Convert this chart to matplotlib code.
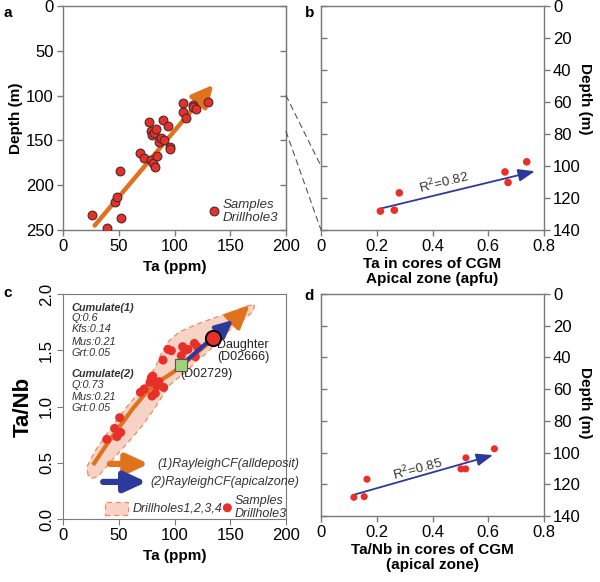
import matplotlib
matplotlib.use("Agg")
import matplotlib.pyplot as plt
from matplotlib.patches import Polygon, Rectangle, ConnectionPatch

# ---- panel a: Ta vs depth, drillhole 3
ta_a = [26.3, 39.5, 51.8, 46.4, 48.5, 50.9, 68.9, 72.2, 76.9, 78.7, 79.6, 82.0, 83.5,
        78.7, 80.5, 82.3, 84.4, 86.2, 88.0, 89.8, 90.4, 94.3, 95.8, 95.8, 107.5, 108.0,
        109.9, 116.2, 116.8, 119.2, 130.2]
depth_a = [233, 248, 237, 219, 213, 184, 164, 170, 130, 139, 144, 142, 137,
           172, 175, 180, 167, 152, 147, 127, 149, 134, 157, 160, 108, 118,
           125, 111, 113, 115, 107]
trend_a = [(28.4, 245), (134.7, 88)]

# ---- panel b: Ta in cores of CGM (apical zone)
ta_b = [0.213, 0.263, 0.281, 0.660, 0.671, 0.738]
depth_b = [128.2, 127.6, 116.8, 103.7, 110.3, 97.4]
trend_b = [(0.216, 126.5), (0.767, 103.3)]

# ---- panel c: Ta vs Ta/Nb
ta_c = [39.2, 46.3, 48.4, 50.8, 51.7, 69.4, 72.9, 78.0, 79.2, 80.4, 81.9, 86.1, 84.3,
        79.8, 82.8, 90.3, 89.7, 94.2, 97.2, 106.1, 107.3, 109.4, 112.1, 117.8, 120.5, 118.7]
tanb_c = [0.708, 0.806, 0.732, 0.901, 0.770, 1.126, 1.156, 1.215, 1.256, 1.271, 1.221,
          1.221, 1.182, 1.093, 1.117, 1.170, 1.413, 1.508, 1.496, 1.452, 1.532, 1.499,
          1.508, 1.561, 1.529, 1.443]
env_x = [22.4, 21.5, 28.4, 41.9, 56.8, 68.8, 76.2, 83.7, 88.2, 94.2, 104.6, 119.6, 134.5,
         152.5, 165.9, 171.9, 170.4, 161.4, 149.5, 139.0, 128.6, 119.6, 112.1, 104.6,
         95.7, 89.7, 82.2, 71.7, 62.8, 50.8, 38.9, 31.4, 25.4]
env_y = [0.391, 0.465, 0.599, 0.793, 0.993, 1.132, 1.236, 1.369, 1.473, 1.576, 1.665,
         1.730, 1.784, 1.843, 1.896, 1.908, 1.843, 1.769, 1.680, 1.576, 1.473, 1.404,
         1.324, 1.265, 1.191, 1.102, 0.984, 0.836, 0.732, 0.599, 0.465, 0.376, 0.361]
curve_x = [26.9, 38.9, 50.8, 62.8, 74.7, 86.7, 98.7, 106.1, 119.6, 134.5, 149.5, 167.4]
curve_y = [0.48, 0.658, 0.821, 0.984, 1.126, 1.227, 1.304, 1.363, 1.473, 1.597, 1.730, 1.902]
parent = (106.1, 1.369)
daughter = (134.5, 1.606)
apical_end = (152.5, 1.769)

# ---- panel d: Ta/Nb in cores of CGM (apical zone)
tanb_d = [0.118, 0.155, 0.165, 0.502, 0.519, 0.520, 0.622]
depth_d = [128.2, 127.8, 116.8, 110.3, 110.3, 103.3, 97.6]
trend_d = [(0.12, 126.5), (0.617, 101.6)]

ORANGE = "#e2711d"
RED = "#e8302a"
BLUE = "#2b3a9c"
SPINE = "#7a7a7a"
PINK = "#f7d3c6"
TICK_FS = 12

plt.rcParams["font.family"] = ["Liberation Sans", "DejaVu Sans"]
plt.rcParams["font.size"] = 10.5

fig = plt.figure(figsize=(6.0, 5.82), dpi=100)
ax_a = fig.add_axes([0.105, 0.6048, 0.3717, 0.3849])
ax_b = fig.add_axes([0.535, 0.6048, 0.3717, 0.3849])
ax_c = fig.add_axes([0.105, 0.1082, 0.3717, 0.3866])
ax_d = fig.add_axes([0.535, 0.1134, 0.3717, 0.3814])


def arrow(ax, start, end, color, lw, hl, hw, z=2):
    ax.annotate("", xy=end, xytext=start,
                arrowprops=dict(arrowstyle=f"-|>,head_length={hl},head_width={hw}",
                                lw=lw, color=color, mutation_scale=10,
                                shrinkA=0, shrinkB=0), zorder=z)


def style(ax, side):
    for s in ax.spines.values():
        s.set_color(SPINE)
        s.set_linewidth(1.0)
    ax.tick_params(colors=SPINE, labelcolor="black", length=4, width=1.0,
                   labelsize=TICK_FS, pad=2.5)
    if side == "right":
        ax.yaxis.tick_right()
        ax.yaxis.set_label_position("right")
        sec = ax.secondary_yaxis("left")
    else:
        sec = ax.secondary_yaxis("right")
    sec.set_yticks(ax.get_yticks())
    sec.tick_params(direction="in", length=4, width=1.0, colors=SPINE,
                    labelleft=False, labelright=False)
    sec.spines[:].set_color(SPINE)


# a
ax_a.scatter(ta_a, depth_a, s=40, c=RED, edgecolors="#4a2a2a", linewidths=0.8, zorder=3)
arrow(ax_a, trend_a[0], trend_a[1], ORANGE, 3.2, 1.3, 0.65)
ax_a.scatter([135.3], [229], s=40, c=RED, edgecolors="#4a2a2a", linewidths=0.8)
ax_a.text(143, 229, "Samples\nDrillhole3", style="italic", fontsize=9.5, va="center",
          ha="left", linespacing=1.1, color="#333333")
ax_a.set_xlim(0, 200)
ax_a.set_ylim(250, 0)
ax_a.set_xticks([0, 50, 100, 150, 200])
ax_a.set_yticks([0, 50, 100, 150, 200, 250])
ax_a.set_xlabel("Ta (ppm)", fontweight="bold", fontsize=11)
ax_a.set_ylabel("Depth (m)", fontweight="bold", fontsize=11, labelpad=2)
style(ax_a, "left")

# b
ax_b.scatter(ta_b, depth_b, s=30, c=RED, edgecolors="none", zorder=3)
arrow(ax_b, trend_b[0], trend_b[1], BLUE, 1.3, 1.0, 0.38)
ax_b.text(0.44, 110, "R$^2$=0.82", rotation=14, fontsize=9.5, ha="center",
          va="center", color="#333333")
ax_b.set_xlim(0, 0.8)
ax_b.set_ylim(140, 0)
ax_b.set_xticks([0, 0.2, 0.4, 0.6, 0.8])
ax_b.set_xticklabels(["0", "0.2", "0.4", "0.6", "0.8"])
ax_b.set_yticks([0, 20, 40, 60, 80, 100, 120, 140])
ax_b.set_xlabel("Ta in cores of CGM\nApical zone (apfu)", fontweight="bold", fontsize=11,
                linespacing=1.15, labelpad=2)
ax_b.set_ylabel("Depth (m)", fontweight="bold", fontsize=11, rotation=270)
ax_b.yaxis.set_label_coords(1.215, 0.585)
style(ax_b, "right")

# c
ax_c.add_patch(Polygon(list(zip(env_x, env_y)), closed=True, facecolor=PINK,
                       edgecolor="#f08a5d", linestyle=(0, (4, 3)), lw=0.9, zorder=1))
ax_c.plot(curve_x[:-1], curve_y[:-1], color=ORANGE, lw=3, zorder=2,
          solid_capstyle="butt")
arrow(ax_c, (curve_x[-2], curve_y[-2]), (curve_x[-1], curve_y[-1]), ORANGE, 3, 1.4, 0.65)
ax_c.scatter(ta_c, tanb_c, s=42, c=RED, edgecolors="none", zorder=3)
arrow(ax_c, parent, apical_end, BLUE, 3, 1.05, 0.5, z=4)
ax_c.scatter([parent[0]], [parent[1]], marker="s", s=70, c="#9ed27a",
             edgecolors="#555555", linewidths=0.8, zorder=5)
ax_c.scatter([daughter[0]], [daughter[1]], s=120, c=RED, edgecolors="black",
             linewidths=1.4, zorder=5)
ax_c.text(138, 1.6, "Daughter\n(D02666)", fontsize=9, va="top", ha="left",
          linespacing=1.0, color="#222222")
ax_c.text(105, 1.29, "(D02729)", fontsize=9, va="center", ha="left", color="#222222")

cum_lines = [("Cumulate(1)", 1.873, True), ("Q:0.6", 1.784, False),
             ("Kfs:0.14", 1.686, False), ("Mus:0.21", 1.576, False),
             ("Grt:0.05", 1.473, False), ("Cumulate(2)", 1.286, True),
             ("Q:0.73", 1.191, False), ("Mus:0.21", 1.087, False),
             ("Grt:0.05", 0.990, False)]
for txt, yy, bold in cum_lines:
    ax_c.text(7.5, yy, txt, style="italic", fontsize=7.8, va="center", ha="left",
              fontweight="bold" if bold else "normal", color="#333333")

arrow(ax_c, (42, 0.49), (77, 0.49), ORANGE, 4.5, 1.3, 0.6)
ax_c.text(85, 0.49, "(1)RayleighCF(alldeposit)", style="italic", fontsize=9,
          va="center", ha="left", color="#333333")
arrow(ax_c, (36, 0.33), (75, 0.33), BLUE, 4.5, 1.3, 0.6)
ax_c.text(78, 0.33, "(2)RayleighCF(apicalzone)", style="italic", fontsize=9,
          va="center", ha="left", color="#333333")
ax_c.add_patch(Rectangle((37.4, 0.036), 21, 0.112, facecolor=PINK, edgecolor="#f08a5d",
                         linestyle=(0, (4, 3)), lw=0.9))
ax_c.text(62, 0.09, "Drillholes1,2,3,4", style="italic", fontsize=9, va="center",
          ha="left", color="#333333")
ax_c.scatter([147.4], [0.1], s=42, c=RED, edgecolors="none")
ax_c.text(153.5, 0.1, "Samples\nDrillhole3", style="italic", fontsize=9, va="center",
          ha="left", linespacing=1.1, color="#333333")
ax_c.set_xlim(0, 200)
ax_c.set_ylim(0, 2.0)
ax_c.set_xticks([0, 50, 100, 150, 200])
ax_c.set_yticks([0.0, 0.5, 1.0, 1.5, 2.0])
ax_c.set_yticklabels(["0.0", "0.5", "1.0", "1.5", "2.0"], rotation=90, va="center")
ax_c.set_xlabel("Ta (ppm)", fontweight="bold", fontsize=11)
ax_c.set_ylabel("Ta/Nb", fontweight="bold", fontsize=16, labelpad=4)
for s in ax_c.spines.values():
    s.set_color(SPINE)
ax_c.tick_params(colors=SPINE, labelcolor="black", length=4, labelsize=TICK_FS, pad=2.5)

# d
ax_d.scatter(tanb_d, depth_d, s=26, c=RED, edgecolors="none", zorder=3)
arrow(ax_d, trend_d[0], trend_d[1], BLUE, 1.3, 1.0, 0.38)
ax_d.text(0.345, 110, "R$^2$=0.85", rotation=15, fontsize=9.5, ha="center",
          va="center", color="#333333")
ax_d.set_xlim(0, 0.8)
ax_d.set_ylim(140, 0)
ax_d.set_xticks([0, 0.2, 0.4, 0.6, 0.8])
ax_d.set_xticklabels(["0", "0.2", "0.4", "0.6", "0.8"])
ax_d.set_yticks([0, 20, 40, 60, 80, 100, 120, 140])
ax_d.set_xlabel("Ta/Nb in cores of CGM\n(apical zone)", fontweight="bold", fontsize=11,
                linespacing=1.15, labelpad=2)
ax_d.set_ylabel("Depth (m)", fontweight="bold", fontsize=11, rotation=270)
ax_d.yaxis.set_label_coords(1.215, 0.51)
style(ax_d, "right")

# dashed connectors a -> b
for dep in (100, 140):
    con = ConnectionPatch(xyA=(200, dep), coordsA=ax_a.transData,
                          xyB=(0, dep), coordsB=ax_b.transData,
                          linestyle=(0, (5, 4)), color="#555555", lw=0.8)
    fig.add_artist(con)

for lab, x, y in (("a", 0.005, 0.978), ("b", 0.508, 0.978),
                  ("c", 0.005, 0.497), ("d", 0.508, 0.492)):
    fig.text(x, y, lab, fontweight="bold", fontsize=11, ha="left", va="center")

fig.savefig("out.png", dpi=100)
